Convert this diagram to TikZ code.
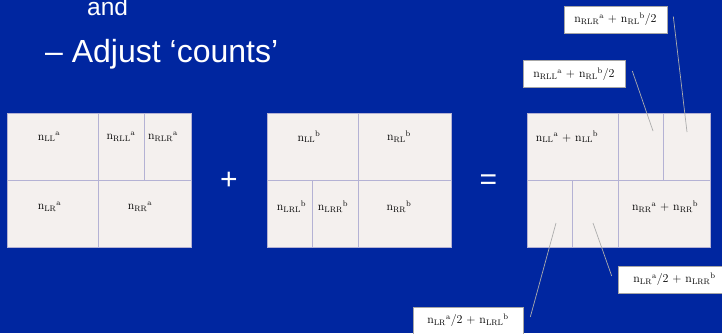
\documentclass[tikz,border=0pt]{standalone}
\usepackage{fontspec}
\newfontfamily\slidefont{Liberation Sans}
\definecolor{slideblue}{RGB}{0,38,160}
\definecolor{cellfill}{RGB}{244,240,238}
\definecolor{cellline}{RGB}{180,178,212}
\newcommand{\ncount}[2]{$\mathrm{n}_{\mathrm{#1}}{}^{\mathrm{#2}}$}

\begin{document}
\begin{tikzpicture}[x=1pt, y=-1pt,
  every node/.style={font=\fontsize{12}{14}\selectfont},
  cell/.style={draw=cellline, fill=cellfill, line width=0.8pt},
  divider/.style={draw=cellline, line width=0.8pt},
  callout/.style={draw=gray!70, fill=white, line width=0.6pt, inner xsep=0pt, minimum height=27pt},
  leader/.style={draw=gray!65, line width=0.7pt},
  slidetext/.style={text=white, anchor=base west, inner sep=0pt}]
% Slide background
\fill[slideblue] (0,0) rectangle (722,333);
\useasboundingbox (0,0) rectangle (722,333);

% Slide text
\node[slidetext, font=\slidefont\fontsize{24.5}{28}\selectfont] (andtext) at (87,15) {and};
\node[slidetext, font=\slidefont\fontsize{32}{36}\selectfont] (adjust) at (45,62) {– Adjust ‘counts’};

% Tree a
\draw[cell] (7,113) rectangle (191,247);
\draw[divider] (7,180) -- (191,180);
\draw[divider] (98,113) -- (98,247);
\draw[divider] (144,113) -- (144,180);
\node (lla) at (49,137) {\ncount{LL}{a}};
\node (rlla) at (121,137) {\ncount{RLL}{a}};
\node (rlra) at (163,137) {\ncount{RLR}{a}};
\node (lra) at (49.5,207) {\ncount{LR}{a}};
\node (rra) at (140,207) {\ncount{RR}{a}};

% Plus sign
\node[text=white, font=\slidefont\fontsize{30}{30}\selectfont] (plus) at (229,181) {+};

% Tree b
\draw[cell] (267,113) rectangle (451,247);
\draw[divider] (267,180) -- (451,180);
\draw[divider] (358,113) -- (358,247);
\draw[divider] (312,180) -- (312,247);
\node (llb) at (309,137) {\ncount{LL}{b}};
\node (rlb) at (399,137) {\ncount{RL}{b}};
\node (lrlb) at (291.5,207) {\ncount{LRL}{b}};
\node (lrrb) at (333,207) {\ncount{LRR}{b}};
\node (rrb) at (399,207) {\ncount{RR}{b}};

% Equals sign
\node[text=white, font=\slidefont\fontsize{30}{30}\selectfont] (equals) at (488.5,182) {=};

% Merged tree
\draw[cell] (527,113) rectangle (710,247);
\draw[divider] (527,180) -- (710,180);
\draw[divider] (618,113) -- (618,247);
\draw[divider] (663,113) -- (663,180);
\draw[divider] (572,180) -- (572,247);
\node (llab) at (567,137) {\ncount{LL}{a} + \ncount{LL}{b}};
\node (rrab) at (665,207) {\ncount{RR}{a} + \ncount{RR}{b}};

% Callouts
\node[callout, minimum width=103pt] (rlrab) at (615.5,19.5) {\ncount{RLR}{a} + \ncount{RL}{b}/2};
\node[callout, minimum width=102pt] (rllab) at (574,74) {\ncount{RLL}{a} + \ncount{RL}{b}/2};
\node[callout, minimum width=113pt] (lrrab) at (674.5,279.5) {\ncount{LR}{a}/2 + \ncount{LRR}{b}};
\node[callout, minimum width=110pt] (lrlab) at (468,320.5) {\ncount{LR}{a}/2 + \ncount{LRL}{b}};

% Leader ends inside the cells
\coordinate (rlr-cell) at (687,132);
\coordinate (rll-cell) at (653,131);
\coordinate (lrr-cell) at (593,223);
\coordinate (lrl-cell) at (556,223);

\draw[leader] ([xshift=6pt,yshift=3pt]rlrab.east) -- (rlr-cell);
\draw[leader] ([xshift=7pt,yshift=3pt]rllab.east) -- (rll-cell);
\draw[leader] (lrr-cell) -- ([xshift=-6pt,yshift=3.5pt]lrrab.west);
\draw[leader] (lrl-cell) -- ([xshift=7pt,yshift=3.5pt]lrlab.east);
\end{tikzpicture}
\end{document}
